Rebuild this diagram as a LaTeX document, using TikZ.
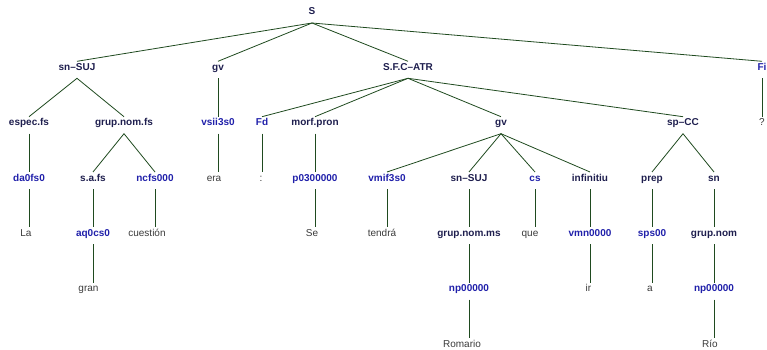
\documentclass[tikz,border=0pt]{standalone}
\usepackage{fontspec}
\setmainfont{Liberation Sans}
\usetikzlibrary{calc}
\definecolor{phrc}{HTML}{1E1E4E}
\definecolor{tagc}{HTML}{2020AA}
\definecolor{wordc}{HTML}{3A3A3A}
\definecolor{edgec}{HTML}{1F4A1F}
\newcommand{\tedge}[2]{\draw[edgeline] let \p1=(#1.base), \p2=(#2.base) in (\x1,{\y1-8pt}) -- (\x2,{\y2+9pt});}
\newcommand{\uedge}[2]{\draw[edgeline] let \p1=(#1.base), \p2=(#2.base) in (\x1,{\y1-8pt}) -- (\x1,{\y2+9pt});}
\begin{document}
\begin{tikzpicture}[x=1pt,y=-1pt,
  lbl/.style={anchor=base,inner sep=0pt,font=\fontsize{10}{12}\selectfont},
  phr/.style={lbl,text=phrc,font=\fontsize{10}{12}\selectfont\bfseries},
  tag/.style={lbl,text=tagc,font=\fontsize{10}{12}\selectfont\bfseries},
  word/.style={lbl,text=wordc},
  edgeline/.style={draw=edgec,line width=0.8pt}]
\useasboundingbox (0,0) rectangle (767,350);
% level 0
\node[phr] (S) at (312,15) {S};
% level 1
\node[phr] (snsuj) at (77,70.3) {sn--SUJ};
\node[phr] (gva) at (218,70.3) {gv};
\node[phr] (sfc) at (408,70.3) {S.F.C--ATR};
\node[tag] (Fi) at (762,70.3) {Fi};
% level 2
\node[phr] (espec) at (29,125.7) {espec.fs};
\node[phr] (grupfs) at (124,125.7) {grup.nom.fs};
\node[tag] (vsii) at (218,125.7) {vsii3s0};
\node[tag] (Fd) at (262,125.7) {Fd};
\node[phr] (morf) at (315,125.7) {morf.pron};
\node[phr] (gvb) at (501,125.7) {gv};
\node[phr] (spcc) at (683,125.7) {sp--CC};
\node[word] (qm) at (762,125.7) {?};
% level 3
\node[tag] (da0) at (29,181) {da0fs0};
\node[phr] (safs) at (93,181) {s.a.fs};
\node[tag] (ncfs) at (155,181) {ncfs000};
\node[word] (era) at (214,181) {era};
\node[word] (colon) at (261,181) {:};
\node[tag] (p03) at (315,181) {p0300000};
\node[tag] (vmif) at (387,181) {vmif3s0};
\node[phr] (snsujb) at (469,181) {sn--SUJ};
\node[tag] (cs) at (535,181) {cs};
\node[phr] (inf) at (590,181) {infinitiu};
\node[phr] (prep) at (652,181) {prep};
\node[phr] (sn) at (714,181) {sn};
% level 4
\node[word] (La) at (26,236.3) {La};
\node[tag] (aq) at (93,236.3) {aq0cs0};
\node[word] (cuest) at (147,236.3) {cuestión};
\node[word] (Se) at (312,236.3) {Se};
\node[word] (tendra) at (382,236.3) {tendrá};
\node[phr] (gnms) at (469,236.3) {grup.nom.ms};
\node[word] (que) at (530,236.3) {que};
\node[tag] (vmn) at (590,236.3) {vmn0000};
\node[tag] (sps) at (652,236.3) {sps00};
\node[phr] (gnom) at (714,236.3) {grup.nom};
% level 5
\node[word] (gran) at (88.5,291.7) {gran};
\node[tag] (npa) at (469,291.7) {np00000};
\node[word] (ir) at (588.5,291.7) {ir};
\node[word] (a) at (650,291.7) {a};
\node[tag] (npb) at (714,291.7) {np00000};
% level 6
\node[word] (Romario) at (462,347) {Romario};
\node[word] (Rio) at (710,347) {Río};
% edges
\tedge{S}{snsuj}\tedge{S}{gva}\tedge{S}{sfc}\tedge{S}{Fi}
\tedge{snsuj}{espec}\tedge{snsuj}{grupfs}
\uedge{gva}{vsii}
\tedge{sfc}{Fd}\tedge{sfc}{morf}\tedge{sfc}{gvb}\tedge{sfc}{spcc}
\uedge{Fi}{qm}
\uedge{espec}{da0}
\tedge{grupfs}{safs}\tedge{grupfs}{ncfs}
\uedge{vsii}{era}
\uedge{Fd}{colon}
\uedge{morf}{p03}
\tedge{gvb}{vmif}\tedge{gvb}{snsujb}\tedge{gvb}{cs}\tedge{gvb}{inf}
\tedge{spcc}{prep}\tedge{spcc}{sn}
\uedge{da0}{La}
\uedge{safs}{aq}
\uedge{ncfs}{cuest}
\uedge{p03}{Se}
\uedge{vmif}{tendra}
\uedge{snsujb}{gnms}
\uedge{cs}{que}
\uedge{inf}{vmn}
\uedge{prep}{sps}
\uedge{sn}{gnom}
\uedge{aq}{gran}
\uedge{gnms}{npa}
\uedge{vmn}{ir}
\uedge{sps}{a}
\uedge{gnom}{npb}
\uedge{npa}{Romario}
\uedge{npb}{Rio}
\end{tikzpicture}
\end{document}
